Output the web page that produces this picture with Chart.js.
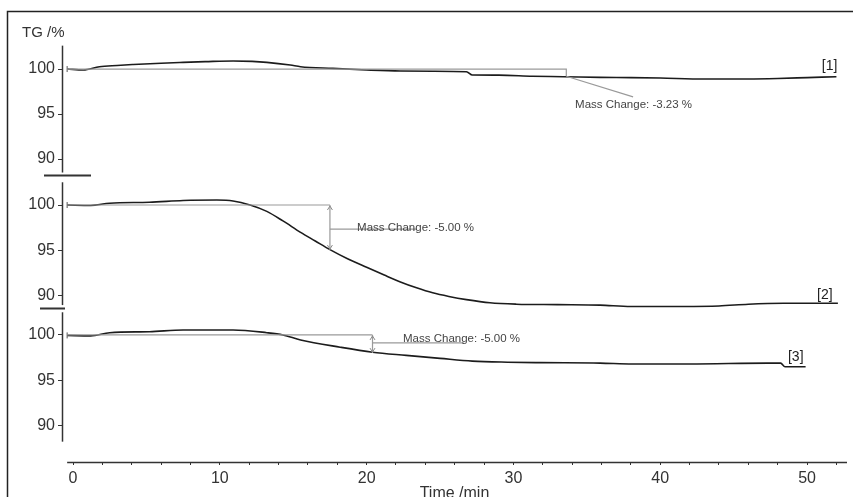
<!DOCTYPE html>
<html>
<head>
<meta charset="utf-8">
<script src="https://cdn.jsdelivr.net/npm/chart.js@4/dist/chart.umd.min.js"></script>
<style>
  body { margin: 0; background: #fff; }
  canvas { display: block; }
</style>
</head>
<body>
<canvas id="tgChart" width="854" height="497"></canvas>
<script>
// TG curves, time in min, mass in %
const time1 = [-0.4, 0.7, 1.8, 3, 4.1, 6, 7.5, 9, 10.9, 12.2, 13.2, 14.8, 15.5, 17.7, 20, 22.3, 24.5, 26.8, 27.2, 29, 31.3, 33.4, 35.9, 38, 40, 43, 46, 48, 50, 52];
const tg1 = [100, 99.9, 100.26, 100.4, 100.5, 100.65, 100.74, 100.82, 100.9, 100.85, 100.74, 100.44, 100.26, 100.07, 99.9, 99.78, 99.76, 99.7, 99.33, 99.32, 99.2, 99.15, 99.07, 99.05, 99.0, 98.9, 98.9, 98.95, 99.05, 99.15];

const time2 = [-0.4, 1.2, 2.5, 5.2, 7.5, 9.8, 10.9, 12.06, 13.2, 14.3, 15.5, 16.5, 17.5, 18.7, 20, 21.2, 22.3, 23.4, 24.5, 25.6, 26.8, 28.4, 30.2, 33, 35.9, 38, 41.5, 44, 46, 48.4, 52.1];
const tg2 = [100, 99.95, 100.2, 100.3, 100.5, 100.55, 100.45, 100.0, 99.3, 98.25, 97.0, 96.05, 95.1, 94.1, 93.15, 92.3, 91.55, 90.9, 90.35, 89.95, 89.6, 89.25, 89.1, 89.05, 89.0, 88.85, 88.85, 88.9, 89.1, 89.2, 89.2];

const time3 = [-0.4, 1.2, 2.5, 5.2, 7.5, 10.9, 13.2, 14.3, 15.5, 18.2, 20.4, 22.7, 25, 27.2, 29.6, 31.8, 35.9, 38.1, 42, 47.3, 48.2, 48.5, 49.9];
const tg3 = [99.95, 99.9, 100.25, 100.36, 100.55, 100.55, 100.25, 100.0, 99.45, 98.65, 98.1, 97.75, 97.42, 97.12, 97.0, 96.95, 96.9, 96.8, 96.8, 96.9, 96.9, 96.5, 96.5];

// mass change evaluation lines
const refTime1 = [-0.4, 33.6, 33.6];
const refTg1 = [100, 100, 99.2];
const leadTime1 = [33.6, 38.15];
const leadTg1 = [99.2, 96.9];

const refTime2 = [-0.4, 17.5];
const refTg2 = [100, 100];
const arrowTime2 = [17.5, 17.5];
const arrowTg2 = [100, 95.05];
const leadTime2 = [17.5, 23.4];
const leadTg2 = [97.36, 97.36];

const refTime3 = [-0.4, 20.4];
const refTg3 = [100, 100];
const arrowTime3 = [20.4, 20.4];
const arrowTg3 = [100, 98.0];
const leadTime3 = [20.4, 26.6];
const leadTg3 = [99.12, 99.12];

const massChange = ['Mass Change: -3.23 %', 'Mass Change: -5.00 %', 'Mass Change: -5.00 %'];
const curveTags = ['[1]', '[2]', '[3]'];

const pts = (ts, vs) => ts.map((t, i) => ({ x: t, y: vs[i] }));

function curve(ts, vs, axis) {
  return {
    data: pts(ts, vs), yAxisID: axis,
    borderColor: '#1c1c1c', borderWidth: 1.6,
    cubicInterpolationMode: 'monotone',
    pointStyle: 'line', pointRotation: 90,
    pointRadius: ts.map((t, i) => i === 0 ? 3 : 0),
    pointBorderColor: '#555', pointBorderWidth: 1
  };
}
function guide(ts, vs, axis) {
  return {
    data: pts(ts, vs), yAxisID: axis,
    borderColor: '#9a9a9a', borderWidth: 1.2,
    tension: 0, pointRadius: 0
  };
}

function yScale(weight, stackWeight, min, max) {
  return {
    type: 'linear', position: 'left', stack: 'tg', weight: weight, stackWeight: stackWeight,
    min: min, max: max,
    border: { display: false },
    grid: { drawOnChartArea: false, tickLength: 4, color: '#333' },
    ticks: {
      stepSize: 2.5, includeBounds: false, padding: 3,
      color: '#333', font: { family: 'Liberation Sans, Arial', size: 16 },
      callback: v => v % 5 === 0 ? v : ''
    },
    afterBuildTicks: s => { s.ticks = s.ticks.filter(t => t.value >= 88); },
    afterFit: s => { s.width = 62; }
  };
}

const decor = {
  id: 'decor',
  afterDraw(chart) {
    const ctx = chart.ctx;
    const x = chart.scales.x;
    const ys = [chart.scales.y1, chart.scales.y2, chart.scales.y3];
    const px = t => x.getPixelForValue(t);
    ctx.save();

    // frame
    ctx.strokeStyle = '#222';
    ctx.lineWidth = 1.5;
    ctx.beginPath();
    ctx.moveTo(7.5, 500); ctx.lineTo(7.5, 11.5); ctx.lineTo(853, 11.5);
    ctx.stroke();

    // y axis pieces and breaks
    ctx.strokeStyle = '#333';
    ctx.lineWidth = 1.5;
    const axX = x.left + 0.5;
    const spans = [[102.6, 88.5], [102.5, 89.0], [102.5, 88.24]];
    spans.forEach((s, i) => {
      ctx.beginPath();
      ctx.moveTo(axX, ys[i].getPixelForValue(s[0]));
      ctx.lineTo(axX, ys[i].getPixelForValue(s[1]));
      ctx.stroke();
    });
    ctx.lineWidth = 2;
    ctx.beginPath();
    let by = Math.round(ys[0].getPixelForValue(88.2)) + 0.5;
    ctx.moveTo(44, by); ctx.lineTo(91, by);
    by = Math.round(ys[1].getPixelForValue(88.68)) + 0.5;
    ctx.moveTo(40, by); ctx.lineTo(65, by);
    ctx.stroke();

    // x axis line
    ctx.lineWidth = 1.5;
    ctx.beginPath();
    ctx.moveTo(px(-0.4), x.top + 0.5); ctx.lineTo(x.right, x.top + 0.5);
    ctx.stroke();

    // arrowheads on mass change bars
    ctx.strokeStyle = '#8a8a8a';
    ctx.lineWidth = 1;
    [[ys[1], arrowTime2, arrowTg2], [ys[2], arrowTime3, arrowTg3]].forEach(([sc, ts, vs]) => {
      const ax = px(ts[0]);
      const top = sc.getPixelForValue(vs[0]);
      const bot = sc.getPixelForValue(vs[1]);
      ctx.beginPath();
      ctx.moveTo(ax - 2.5, top + 5); ctx.lineTo(ax, top + 1); ctx.lineTo(ax + 2.5, top + 5);
      ctx.moveTo(ax - 2.5, bot - 5); ctx.lineTo(ax, bot - 1); ctx.lineTo(ax + 2.5, bot - 5);
      ctx.stroke();
    });

    // texts
    ctx.fillStyle = '#333';
    ctx.font = '15px "Liberation Sans", Arial';
    ctx.textAlign = 'left';
    ctx.textBaseline = 'alphabetic';
    ctx.fillText('TG /%', 22, 36.5);

    ctx.font = '16px "Liberation Sans", Arial';
    ctx.textAlign = 'center';
    ctx.fillText('Time /min', (x.left + x.right) / 2, 497.5);

    ctx.fillStyle = '#444';
    ctx.font = '11.5px "Liberation Sans", Arial';
    ctx.textAlign = 'left';
    ctx.textBaseline = 'middle';
    const labelAt = [[34.2, 96.0], [19.35, 97.47], [22.48, 99.56]];
    labelAt.forEach((p, i) => ctx.fillText(massChange[i], px(p[0]), ys[i].getPixelForValue(p[1])));

    ctx.fillStyle = '#222';
    ctx.font = '14px "Liberation Sans", Arial';
    const tagAt = [[51.0, 100.33], [50.68, 90.1], [48.7, 97.6]];
    tagAt.forEach((p, i) => ctx.fillText(curveTags[i], px(p[0]), ys[i].getPixelForValue(p[1])));

    ctx.restore();
  }
};

new Chart(document.getElementById('tgChart'), {
  type: 'line',
  data: {
    datasets: [
      guide(refTime1, refTg1, 'y1'),
      guide(leadTime1, leadTg1, 'y1'),
      guide(refTime2, refTg2, 'y2'),
      guide(arrowTime2, arrowTg2, 'y2'),
      guide(leadTime2, leadTg2, 'y2'),
      guide(refTime3, refTg3, 'y3'),
      guide(arrowTime3, arrowTg3, 'y3'),
      guide(leadTime3, leadTg3, 'y3'),
      curve(time1, tg1, 'y1'),
      curve(time2, tg2, 'y2'),
      curve(time3, tg3, 'y3')
    ]
  },
  options: {
    responsive: false,
    animation: false,
    devicePixelRatio: 1,
    layout: { padding: { left: 0, top: 46, right: 7, bottom: 0 } },
    plugins: { legend: { display: false }, tooltip: { enabled: false } },
    scales: {
      x: {
        type: 'linear', position: 'bottom', min: -0.75, max: 52.72,
        border: { display: false },
        grid: { drawOnChartArea: false, tickLength: 3, color: '#333' },
        ticks: {
          stepSize: 2, includeBounds: false, autoSkip: false, maxRotation: 0, padding: 4,
          color: '#333', font: { family: 'Liberation Sans, Arial', size: 16 },
          callback: v => v % 10 === 0 ? v : ''
        },
        afterFit: s => { s.height = 35; }
      },
      y1: yScale(3, 133, 87.78, 102.56),
      y2: yScale(2, 130, 88.57, 102.86),
      y3: yScale(1, 153, 86.0, 102.86)
    }
  },
  plugins: [decor]
});
</script>
</body>
</html>
